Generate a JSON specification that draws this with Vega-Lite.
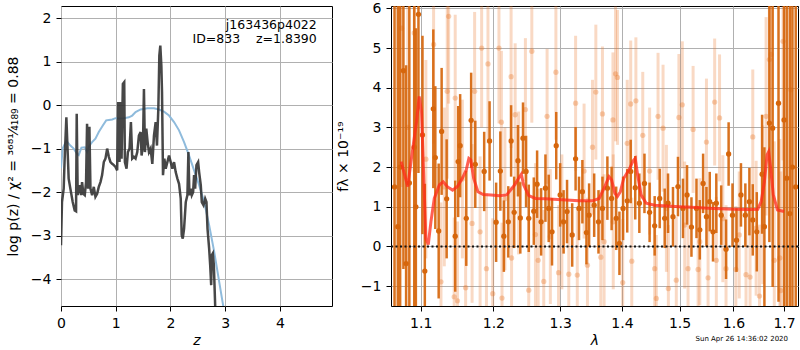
{
  "$schema": "https://vega.github.io/schema/vega-lite/v6.json",
  "padding": {"top": 0, "left": 5, "right": 0, "bottom": 0},
  "spacing": 2,
  "config": {
    "font": "DejaVu Sans",
    "view": {"stroke": "black", "strokeWidth": 1},
    "axis": {"domain": false, "grid": true, "gridColor": "#b0b0b0", "gridWidth": 1, "tickColor": "black", "tickSize": 5, "tickWidth": 1,
      "labelFont": "DejaVu Sans", "labelFontSize": 14, "labelColor": "black", "labelPadding": 5, "labelFlush": false, "labelOverlap": false,
      "titleFont": "DejaVu Sans", "titleFontSize": 14, "titleFontWeight": "normal", "titleColor": "black"},
    "axisX": {"titlePadding": 3},
    "axisY": {"titlePadding": 10}
  },
  "datasets": {
    "black": [
      {"z":0,"lp":-3.22},{"z":0.018,"lp":-2.23},{"z":0.049,"lp":-1.92},{"z":0.067,"lp":-1.23},{"z":0.098,"lp":-0.28},{"z":0.14,"lp":-1.69},{"z":0.171,"lp":-1.92},{"z":0.214,"lp":-2.23},{"z":0.25,"lp":-2.42},{"z":0.275,"lp":-2.44},{"z":0.287,"lp":-0.2},{"z":0.305,"lp":-2.07},{"z":0.336,"lp":-1.84},{"z":0.367,"lp":-2.07},{"z":0.385,"lp":-1.77},{"z":0.409,"lp":-2.04},{"z":0.434,"lp":-2.07},{"z":0.458,"lp":-1.77},{"z":0.476,"lp":-0.43},{"z":0.495,"lp":-1.92},{"z":0.519,"lp":-0.5},{"z":0.538,"lp":-1.92},{"z":0.568,"lp":-2.07},{"z":0.599,"lp":-1.88},{"z":0.629,"lp":-2.11},{"z":0.66,"lp":-2.04},{"z":0.69,"lp":-1.88},{"z":0.721,"lp":-1.77},{"z":0.751,"lp":-1.61},{"z":0.782,"lp":-1.31},{"z":0.812,"lp":-1.23},{"z":0.843,"lp":-1.0},{"z":0.874,"lp":-1.19},{"z":0.904,"lp":-1.31},{"z":0.935,"lp":-1.35},{"z":0.965,"lp":-1.38},{"z":0.996,"lp":-1.42},{"z":1.026,"lp":-1.5},{"z":1.045,"lp":0.07},{"z":1.069,"lp":-1.31},{"z":1.087,"lp":0.07},{"z":1.106,"lp":-1.23},{"z":1.13,"lp":0.49},{"z":1.155,"lp":0.53},{"z":1.167,"lp":-1.31},{"z":1.197,"lp":-1.46},{"z":1.222,"lp":-1.08},{"z":1.252,"lp":-1.0},{"z":1.277,"lp":-0.39},{"z":1.301,"lp":-1.23},{"z":1.332,"lp":-1.19},{"z":1.362,"lp":-1.23},{"z":1.393,"lp":-1.08},{"z":1.423,"lp":-0.7},{"z":1.454,"lp":-0.62},{"z":1.472,"lp":-1.16},{"z":1.497,"lp":-0.93},{"z":1.515,"lp":0.37},{"z":1.533,"lp":-1.08},{"z":1.558,"lp":-0.54},{"z":1.582,"lp":-0.85},{"z":1.607,"lp":-1.08},{"z":1.637,"lp":-1.0},{"z":1.668,"lp":-1.35},{"z":1.698,"lp":-0.7},{"z":1.729,"lp":-0.39},{"z":1.753,"lp":-0.93},{"z":1.778,"lp":-0.08},{"z":1.796,"lp":1.14},{"z":1.814,"lp":1.37},{"z":1.833,"lp":0.91},{"z":1.845,"lp":0.3},{"z":1.863,"lp":-1.61},{"z":1.888,"lp":-1.23},{"z":1.912,"lp":-1.46},{"z":1.943,"lp":-1.31},{"z":1.973,"lp":-1.16},{"z":2.004,"lp":-1.31},{"z":2.034,"lp":-1.46},{"z":2.065,"lp":-1.31},{"z":2.095,"lp":-1.54},{"z":2.126,"lp":-1.69},{"z":2.156,"lp":-1.81},{"z":2.187,"lp":-2.15},{"z":2.205,"lp":-2.99},{"z":2.224,"lp":-3.07},{"z":2.248,"lp":-2.84},{"z":2.279,"lp":-2.23},{"z":2.309,"lp":-2.07},{"z":2.327,"lp":-1.08},{"z":2.346,"lp":-2.07},{"z":2.37,"lp":-1.92},{"z":2.389,"lp":-2.07},{"z":2.413,"lp":-2.0},{"z":2.431,"lp":-1.61},{"z":2.45,"lp":-1.92},{"z":2.474,"lp":-1.38},{"z":2.505,"lp":-1.31},{"z":2.523,"lp":-1.54},{"z":2.553,"lp":-1.84},{"z":2.572,"lp":-2.23},{"z":2.602,"lp":-2.3},{"z":2.633,"lp":-2.15},{"z":2.657,"lp":-2.23},{"z":2.676,"lp":-2.84},{"z":2.706,"lp":-3.3},{"z":2.725,"lp":-3.68},{"z":2.743,"lp":-4.14},{"z":2.755,"lp":-3.45},{"z":2.773,"lp":-3.41},{"z":2.792,"lp":-3.68},{"z":2.816,"lp":-4.61},{"z":2.84,"lp":-5.5}
    ],
    "blue": [
      {"z":0,"lp":-1.45},{"z":0.03,"lp":-1.0},{"z":0.098,"lp":-0.82},{"z":0.171,"lp":-0.93},{"z":0.232,"lp":-1.0},{"z":0.293,"lp":-1.12},{"z":0.324,"lp":-1.15},{"z":0.373,"lp":-0.98},{"z":0.434,"lp":-0.97},{"z":0.476,"lp":-1.08},{"z":0.519,"lp":-0.93},{"z":0.568,"lp":-0.85},{"z":0.629,"lp":-0.77},{"z":0.69,"lp":-0.62},{"z":0.764,"lp":-0.47},{"z":0.825,"lp":-0.35},{"z":0.874,"lp":-0.34},{"z":0.935,"lp":-0.33},{"z":0.996,"lp":-0.3},{"z":1.057,"lp":-0.31},{"z":1.148,"lp":-0.3},{"z":1.24,"lp":-0.28},{"z":1.301,"lp":-0.24},{"z":1.362,"lp":-0.16},{"z":1.454,"lp":-0.1},{"z":1.576,"lp":-0.07},{"z":1.698,"lp":-0.07},{"z":1.79,"lp":-0.1},{"z":1.881,"lp":-0.15},{"z":1.973,"lp":-0.24},{"z":2.065,"lp":-0.39},{"z":2.156,"lp":-0.58},{"z":2.248,"lp":-0.85},{"z":2.34,"lp":-1.16},{"z":2.431,"lp":-1.5},{"z":2.523,"lp":-1.84},{"z":2.615,"lp":-2.23},{"z":2.706,"lp":-2.76},{"z":2.798,"lp":-3.37},{"z":2.889,"lp":-4.06},{"z":2.95,"lp":-4.52},{"z":2.981,"lp":-4.75},{"z":3.02,"lp":-5.1}
    ],
    "dark": [
      {"lam":1.066,"f":1.5,"e":6},{"lam":1.0702,"f":0.5,"e":6},{"lam":1.0732,"f":2.0,"e":5.5},{"lam":1.0774,"f":4.43,"e":5},{"lam":1.0809,"f":-0.43,"e":5},{"lam":1.0851,"f":1.6,"e":4.5},{"lam":1.0915,"f":2.5,"e":4},{"lam":1.0936,"f":1.0,"e":4.5},{"lam":1.097,"f":5.85,"e":4},{"lam":1.1023,"f":2.81,"e":2.5},{"lam":1.1054,"f":-0.62,"e":2.2},{"lam":1.1167,"f":3.47,"e":2.0},{"lam":1.1194,"f":2.24,"e":1.8},{"lam":1.1239,"f":0.39,"e":1.7},{"lam":1.1279,"f":2.9,"e":1.6},{"lam":1.1347,"f":1.2,"e":1.5},{"lam":1.1464,"f":0.26,"e":1.4},{"lam":1.1505,"f":2.14,"e":1.4},{"lam":1.1532,"f":2.54,"e":1.3},{"lam":1.1617,"f":0.71,"e":1.2},{"lam":1.1685,"f":3.18,"e":1.2},{"lam":1.1743,"f":2.07,"e":1.1},{"lam":1.1869,"f":1.89,"e":1.0},{"lam":1.1946,"f":2.66,"e":1.0},{"lam":1.204,"f":0.61,"e":1.0},{"lam":1.2101,"f":1.9,"e":1.0},{"lam":1.2152,"f":0.26,"e":0.9},{"lam":1.2217,"f":0.62,"e":0.9},{"lam":1.2258,"f":2.66,"e":0.9},{"lam":1.2303,"f":0.86,"e":0.9},{"lam":1.2359,"f":2.16,"e":0.9},{"lam":1.2394,"f":0.72,"e":0.9},{"lam":1.2434,"f":2.73,"e":0.9},{"lam":1.248,"f":1.89,"e":0.9},{"lam":1.252,"f":0.71,"e":0.85},{"lam":1.2596,"f":0.89,"e":0.85},{"lam":1.2646,"f":1.57,"e":0.85},{"lam":1.2707,"f":0.62,"e":0.85},{"lam":1.2773,"f":1.47,"e":0.85},{"lam":1.2823,"f":0.96,"e":0.85},{"lam":1.2874,"f":0.37,"e":0.85},{"lam":1.2939,"f":2.54,"e":0.85},{"lam":1.3,"f":1.3,"e":0.8},{"lam":1.3054,"f":0.62,"e":0.8},{"lam":1.3108,"f":0.88,"e":0.8},{"lam":1.3189,"f":0.29,"e":0.8},{"lam":1.3243,"f":2.21,"e":0.8},{"lam":1.3297,"f":0.96,"e":0.8},{"lam":1.3351,"f":1.38,"e":0.8},{"lam":1.3416,"f":0.35,"e":0.8},{"lam":1.3459,"f":0.79,"e":0.8},{"lam":1.3541,"f":1.04,"e":0.8},{"lam":1.3611,"f":0.62,"e":0.8},{"lam":1.3676,"f":0.96,"e":0.8},{"lam":1.3757,"f":1.47,"e":0.8},{"lam":1.3827,"f":1.21,"e":0.8},{"lam":1.3903,"f":0.71,"e":0.8},{"lam":1.3957,"f":0.08,"e":0.8},{"lam":1.4018,"f":0.96,"e":0.8},{"lam":1.4088,"f":1.15,"e":0.8},{"lam":1.4147,"f":1.89,"e":0.8},{"lam":1.4224,"f":1.48,"e":0.8},{"lam":1.4294,"f":1.09,"e":0.75},{"lam":1.4382,"f":1.59,"e":0.75},{"lam":1.4471,"f":0.86,"e":0.75},{"lam":1.4559,"f":0.52,"e":0.75},{"lam":1.4647,"f":1.21,"e":0.75},{"lam":1.4735,"f":0.71,"e":0.75},{"lam":1.4794,"f":1.09,"e":0.75},{"lam":1.4882,"f":0.75,"e":0.75},{"lam":1.4971,"f":1.51,"e":0.75},{"lam":1.5061,"f":0.96,"e":0.75},{"lam":1.5135,"f":1.3,"e":0.75},{"lam":1.5215,"f":0.49,"e":0.75},{"lam":1.5307,"f":0.96,"e":0.75},{"lam":1.5368,"f":0.42,"e":0.75},{"lam":1.5429,"f":1.59,"e":0.75},{"lam":1.5491,"f":0.75,"e":0.75},{"lam":1.5552,"f":1.13,"e":0.75},{"lam":1.5613,"f":0.37,"e":0.75},{"lam":1.5675,"f":1.09,"e":0.75},{"lam":1.5767,"f":0.79,"e":0.75},{"lam":1.5859,"f":-0.07,"e":0.75},{"lam":1.5908,"f":2.33,"e":0.8},{"lam":1.5982,"f":0.79,"e":0.8},{"lam":1.6059,"f":0.16,"e":0.8},{"lam":1.6145,"f":1.3,"e":0.8},{"lam":1.623,"f":0.79,"e":0.8},{"lam":1.6309,"f":1.13,"e":0.85},{"lam":1.6375,"f":0.67,"e":0.9},{"lam":1.6454,"f":0.37,"e":1.0},{"lam":1.6559,"f":1.82,"e":1.5},{"lam":1.6605,"f":0.5,"e":2},{"lam":1.6704,"f":3.11,"e":3},{"lam":1.677,"f":2.98,"e":4},{"lam":1.6888,"f":3.61,"e":5},{"lam":1.7,"f":3.19,"e":5},{"lam":1.7055,"f":1.72,"e":6},{"lam":1.7117,"f":0.83,"e":6},{"lam":1.7172,"f":2.0,"e":6},{"lam":1.724,"f":1.5,"e":6}
    ],
    "light": [
      {"lam":1.075,"f":5.5,"e":4},{"lam":1.083,"f":3.0,"e":4},{"lam":1.0915,"f":5.38,"e":3.5},{"lam":1.1171,"f":5.09,"e":2.5},{"lam":1.1374,"f":5.8,"e":2.2},{"lam":1.1355,"f":3.91,"e":2.2},{"lam":1.1464,"f":3.74,"e":2.1},{"lam":1.1734,"f":3.91,"e":2.0},{"lam":1.1833,"f":5.0,"e":2.0},{"lam":1.1923,"f":4.6,"e":2.0},{"lam":1.2081,"f":5.0,"e":1.9},{"lam":1.2116,"f":3.13,"e":1.8},{"lam":1.2258,"f":4.28,"e":1.8},{"lam":1.2318,"f":3.32,"e":1.8},{"lam":1.247,"f":3.45,"e":1.8},{"lam":1.2566,"f":4.92,"e":1.8},{"lam":1.2798,"f":3.28,"e":1.7},{"lam":1.2934,"f":4.39,"e":1.7},{"lam":1.3243,"f":3.61,"e":1.7},{"lam":1.3568,"f":3.89,"e":1.7},{"lam":1.3676,"f":3.34,"e":1.7},{"lam":1.3849,"f":3.19,"e":1.7},{"lam":1.3892,"f":4.35,"e":1.7},{"lam":1.3924,"f":4.26,"e":1.7},{"lam":1.4147,"f":3.59,"e":1.6},{"lam":1.4235,"f":3.67,"e":1.6},{"lam":1.4618,"f":3.28,"e":1.6},{"lam":1.4706,"f":2.98,"e":1.6},{"lam":1.4988,"f":3.25,"e":1.6},{"lam":1.5049,"f":3.57,"e":1.6},{"lam":1.5245,"f":2.95,"e":1.6},{"lam":1.5491,"f":2.63,"e":1.6},{"lam":1.5644,"f":3.64,"e":1.6},{"lam":1.5736,"f":3.24,"e":1.6},{"lam":1.6375,"f":2.76,"e":1.7},{"lam":1.6638,"f":3.28,"e":2.5},{"lam":1.6704,"f":4.71,"e":3},{"lam":1.6737,"f":4.84,"e":3},{"lam":1.698,"f":5.17,"e":3},{"lam":1.7138,"f":3.95,"e":3},
      {"lam":1.127,"f":-0.89,"e":2.0},{"lam":1.145,"f":-1.27,"e":2.0},{"lam":1.1495,"f":-1.37,"e":2.0},{"lam":1.1608,"f":-1.04,"e":2.0},{"lam":1.1901,"f":-0.56,"e":1.9},{"lam":1.1991,"f":-1.19,"e":1.9},{"lam":1.2125,"f":-1.3,"e":1.9},{"lam":1.2265,"f":-0.29,"e":1.8},{"lam":1.252,"f":-1.1,"e":1.8},{"lam":1.2662,"f":-0.35,"e":1.8},{"lam":1.2747,"f":-0.88,"e":1.8},{"lam":1.2975,"f":-0.66,"e":1.7},{"lam":1.3135,"f":-0.7,"e":1.7},{"lam":1.327,"f":-0.72,"e":1.7},{"lam":1.3432,"f":-0.47,"e":1.7},{"lam":1.3649,"f":-0.27,"e":1.7},{"lam":1.3703,"f":0.12,"e":1.7},{"lam":1.4012,"f":-0.91,"e":1.6},{"lam":1.4165,"f":-0.37,"e":1.6},{"lam":1.4559,"f":-0.56,"e":1.6},{"lam":1.4588,"f":-1.31,"e":1.6},{"lam":1.48,"f":-1.06,"e":1.6},{"lam":1.4941,"f":-0.85,"e":1.6},{"lam":1.5153,"f":-0.56,"e":1.6},{"lam":1.5337,"f":-0.58,"e":1.6},{"lam":1.5521,"f":-0.79,"e":1.6},{"lam":1.5675,"f":-0.35,"e":1.6},{"lam":1.5859,"f":-0.56,"e":1.6},{"lam":1.6046,"f":-0.58,"e":1.6},{"lam":1.6243,"f":-0.71,"e":1.7},{"lam":1.6322,"f":-0.77,"e":1.7},{"lam":1.6507,"f":-1.25,"e":1.8},{"lam":1.6803,"f":-0.35,"e":3},{"lam":1.6914,"f":-0.29,"e":3},{"lam":1.6934,"f":-1.11,"e":3},
      {"lam":1.1068,"f":2.2,"e":2.5},{"lam":1.1315,"f":1.5,"e":2.0},{"lam":1.1563,"f":1.7,"e":2.0},{"lam":1.1698,"f":0.58,"e":2.0},{"lam":1.1811,"f":0.37,"e":1.9},{"lam":1.2167,"f":1.2,"e":1.8},{"lam":1.2369,"f":1.6,"e":1.8},{"lam":1.2621,"f":0.3,"e":1.8},{"lam":1.2848,"f":0.25,"e":1.7},{"lam":1.3027,"f":0.62,"e":1.7},{"lam":1.3378,"f":1.9,"e":1.7},{"lam":1.3514,"f":2.5,"e":1.7},{"lam":1.3854,"f":0.62,"e":1.7},{"lam":1.4088,"f":2.6,"e":1.6},{"lam":1.4353,"f":2.8,"e":1.6},{"lam":1.4471,"f":1.9,"e":1.6},{"lam":1.4765,"f":0.96,"e":1.6},{"lam":1.5092,"f":0.54,"e":1.6},{"lam":1.5368,"f":0.12,"e":1.6},{"lam":1.5798,"f":0.7,"e":1.6},{"lam":1.6112,"f":0.29,"e":1.6},{"lam":1.6441,"f":0.46,"e":1.7},{"lam":1.6572,"f":1.05,"e":2.0}
    ],
    "model": [
      {"lam":1.0745,"f":2.14},{"lam":1.083,"f":1.51},{"lam":1.089,"f":2.39},{"lam":1.0945,"f":3.15},{"lam":1.098,"f":3.78},{"lam":1.101,"f":3.4},{"lam":1.1036,"f":1.97},{"lam":1.1068,"f":0.2},{"lam":1.11,"f":0.05},{"lam":1.1135,"f":0.62},{"lam":1.118,"f":1.21},{"lam":1.1248,"f":1.55},{"lam":1.13,"f":1.63},{"lam":1.136,"f":1.5},{"lam":1.1428,"f":1.42},{"lam":1.1495,"f":1.51},{"lam":1.1563,"f":1.72},{"lam":1.1617,"f":1.93},{"lam":1.1653,"f":2.22},{"lam":1.168,"f":2.18},{"lam":1.172,"f":1.72},{"lam":1.178,"f":1.38},{"lam":1.1856,"f":1.31},{"lam":1.1968,"f":1.3},{"lam":1.2091,"f":1.28},{"lam":1.2192,"f":1.3},{"lam":1.2293,"f":1.51},{"lam":1.2369,"f":1.72},{"lam":1.2409,"f":1.82},{"lam":1.2444,"f":1.55},{"lam":1.252,"f":1.28},{"lam":1.2621,"f":1.21},{"lam":1.2773,"f":1.2},{"lam":1.3027,"f":1.18},{"lam":1.3297,"f":1.15},{"lam":1.3514,"f":1.15},{"lam":1.3622,"f":1.21},{"lam":1.3703,"f":1.47},{"lam":1.3784,"f":1.76},{"lam":1.3827,"f":1.68},{"lam":1.3881,"f":1.34},{"lam":1.3924,"f":1.26},{"lam":1.3973,"f":1.38},{"lam":1.4029,"f":1.72},{"lam":1.4118,"f":1.93},{"lam":1.4188,"f":2.16},{"lam":1.4224,"f":2.22},{"lam":1.4265,"f":1.8},{"lam":1.4324,"f":1.3},{"lam":1.4412,"f":1.09},{"lam":1.4559,"f":1.04},{"lam":1.5,"f":1.0},{"lam":1.5307,"f":0.98},{"lam":1.5613,"f":0.96},{"lam":1.6,"f":0.94},{"lam":1.6309,"f":0.93},{"lam":1.6474,"f":0.94},{"lam":1.654,"f":1.13},{"lam":1.6605,"f":1.63},{"lam":1.6658,"f":2.31},{"lam":1.669,"f":2.39},{"lam":1.673,"f":1.97},{"lam":1.6783,"f":1.3},{"lam":1.6868,"f":0.92},{"lam":1.7,"f":0.88}
    ]
  },
  "hconcat": [
    {
      "width": 271,
      "height": 300,
      "layer": [
        {
          "data": {"name": "blue"},
          "mark": {"type": "line", "color": "#8fbbdc", "strokeWidth": 2, "clip": true},
          "encoding": {
            "x": {"field": "z", "type": "quantitative", "title": "z", "scale": {"domain": [0, 4.95], "nice": false, "zero": false}, "axis": {"values": [0, 1, 2, 3, 4], "titleFontStyle": "italic"}},
            "y": {"field": "lp", "type": "quantitative", "title": "log p(z)  /  χ² = ³⁶⁸¹⁄₄₁₈₉ = 0.88", "scale": {"domain": [-4.62, 2.28], "nice": false, "zero": false}, "axis": {"values": [-4, -3, -2, -1, 0, 1, 2]}}
          }
        },
        {
          "data": {"name": "black"},
          "mark": {"type": "line", "color": "#333333", "strokeWidth": 2.5, "opacity": 0.9, "clip": true},
          "encoding": {
            "x": {"field": "z", "type": "quantitative", "title": "z"},
            "y": {"field": "lp", "type": "quantitative", "title": "log p(z)  /  χ² = ³⁶⁸¹⁄₄₁₈₉ = 0.88"}
          }
        },
        {
          "data": {"values": [{"z": 4.672, "lp": 1.85, "label": "j163436p4022"}, {"z": 4.672, "lp": 1.517, "label": "ID=833\u00a0\u00a0\u00a0\u00a0z=1.8390"}]},
          "mark": {"type": "text", "align": "right", "baseline": "middle", "fontSize": 12.5, "font": "DejaVu Sans", "color": "black"},
          "encoding": {
            "x": {"field": "z", "type": "quantitative", "title": "z"},
            "y": {"field": "lp", "type": "quantitative", "title": "log p(z)  /  χ² = ³⁶⁸¹⁄₄₁₈₉ = 0.88"},
            "text": {"field": "label"}
          }
        }
      ]
    },
    {
      "width": 407,
      "height": 300,
      "title": {"text": "Sun Apr 26 14:36:02 2020", "orient": "bottom", "anchor": "end", "fontSize": 7, "fontWeight": "normal", "font": "DejaVu Sans", "color": "black", "offset": -12, "dx": -11},
      "layer": [
        {
          "data": {"name": "light"},
          "mark": {"type": "errorbar", "color": "#e8772c", "opacity": 0.28, "thickness": 3, "clip": true},
          "encoding": {
            "x": {"field": "lam", "type": "quantitative", "title": "λ", "scale": {"type": "log", "domain": [1.0615, 1.7287], "nice": false, "zero": false}, "axis": {"values": [1.1, 1.2, 1.3, 1.4, 1.5, 1.6, 1.7], "format": ".1f", "titleFontStyle": "italic"}},
            "y": {"field": "f", "type": "quantitative", "title": "fλ × 10⁻¹⁹", "scale": {"domain": [-1.5, 6.06], "nice": false, "zero": false}, "axis": {"values": [-1, 0, 1, 2, 3, 4, 5, 6]}},
            "yError": {"field": "e"}
          }
        },
        {
          "data": {"name": "light"},
          "mark": {"type": "circle", "color": "#e8772c", "opacity": 0.35, "size": 28, "clip": true},
          "encoding": {
            "x": {"field": "lam", "type": "quantitative", "title": "λ"},
            "y": {"field": "f", "type": "quantitative", "title": "fλ × 10⁻¹⁹"}
          }
        },
        {
          "data": {"name": "dark"},
          "mark": {"type": "errorbar", "color": "#d6660c", "opacity": 0.92, "thickness": 2.5, "clip": true},
          "encoding": {
            "x": {"field": "lam", "type": "quantitative", "title": "λ"},
            "y": {"field": "f", "type": "quantitative", "title": "fλ × 10⁻¹⁹"},
            "yError": {"field": "e"}
          }
        },
        {
          "data": {"name": "dark"},
          "mark": {"type": "circle", "color": "#d6660c", "opacity": 1, "size": 28, "clip": true},
          "encoding": {
            "x": {"field": "lam", "type": "quantitative", "title": "λ"},
            "y": {"field": "f", "type": "quantitative", "title": "fλ × 10⁻¹⁹"}
          }
        },
        {
          "data": {"name": "model"},
          "mark": {"type": "line", "color": "#ff2a1a", "strokeWidth": 3, "opacity": 0.75, "clip": true},
          "encoding": {
            "x": {"field": "lam", "type": "quantitative", "title": "λ"},
            "y": {"field": "f", "type": "quantitative", "title": "fλ × 10⁻¹⁹"}
          }
        },
        {
          "data": {"values": [{"f": 0}]},
          "mark": {"type": "rule", "color": "#111111", "strokeWidth": 2, "strokeDash": [2, 2.5]},
          "encoding": {
            "y": {"field": "f", "type": "quantitative", "title": "fλ × 10⁻¹⁹"}
          }
        }
      ]
    }
  ]
}
